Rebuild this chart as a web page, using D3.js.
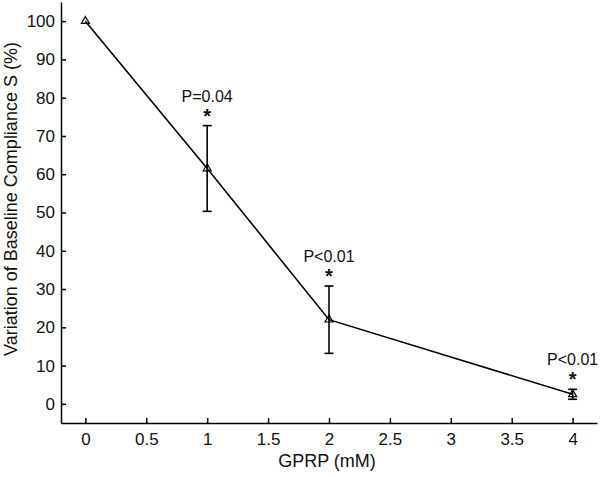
<!DOCTYPE html>
<html>
<head>
<meta charset="utf-8">
<script src="https://cdn.jsdelivr.net/npm/d3@7"></script>
<style>
  body { margin: 0; background: #fff; }
  text { font-family: "Liberation Sans", Arial, sans-serif; }
</style>
</head>
<body>
<div id="chart"></div>
<script>
// Data
const doses = [0, 1, 2, 4];
const means = [100, 61.5, 22, 2.5];
const errors = [0, 11.2, 8.8, 1.3];
const pLabels = ["", "P=0.04", "P<0.01", "P<0.01"];
const xTicks = [0, 0.5, 1, 1.5, 2, 2.5, 3, 3.5, 4];
const yTicks = [0, 10, 20, 30, 40, 50, 60, 70, 80, 90, 100];

const dataset = doses.map((d, i) => ({
  dose: d, mean: means[i], err: errors[i], label: pLabels[i]
}));

// Dimensions
const dimensions = { width: 600, height: 477, left: 61, right: 597, top: 2, bottom: 423 };

const svg = d3.select("#chart").append("svg")
  .attr("width", dimensions.width)
  .attr("height", dimensions.height);

// Scales
const xScale = d3.scaleLinear().domain([-0.2, 4.2]).range([dimensions.left, dimensions.right]);
const yScale = d3.scaleLinear().domain([-5, 105]).range([dimensions.bottom, dimensions.top]);

// Axes (ticks pointing inward)
const xAxis = d3.axisBottom(xScale).tickValues(xTicks).tickSize(-5).tickPadding(10).tickSizeOuter(0)
  .tickFormat(d3.format(""));
const yAxis = d3.axisLeft(yScale).tickValues(yTicks).tickSize(-5).tickPadding(6).tickSizeOuter(0);

const xAxisG = svg.append("g")
  .attr("transform", `translate(0, ${dimensions.bottom})`)
  .call(xAxis);
const yAxisG = svg.append("g")
  .attr("transform", `translate(${dimensions.left}, 0)`)
  .call(yAxis);

[xAxisG, yAxisG].forEach((g) => {
  g.select(".domain").attr("stroke", "#000").attr("stroke-width", 1.5);
  g.selectAll(".tick line").attr("stroke", "#000").attr("stroke-width", 1.5);
  g.selectAll(".tick text").attr("fill", "#111").style("font-size", "17px")
    .style("font-family", "'Liberation Sans', Arial, sans-serif");
});

// Axis titles
svg.append("text")
  .attr("x", 327)
  .attr("y", 467)
  .attr("text-anchor", "middle")
  .style("font-size", "18px")
  .attr("fill", "#111")
  .text("GPRP (mM)");

svg.append("text")
  .attr("transform", `translate(17, 199) rotate(-90)`)
  .attr("text-anchor", "middle")
  .style("font-size", "18px")
  .attr("fill", "#111")
  .text("Variation of Baseline Compliance S (%)");

// Line
const lineGenerator = d3.line()
  .x((d) => xScale(d.dose))
  .y((d) => yScale(d.mean));

svg.append("path")
  .datum(dataset)
  .attr("d", lineGenerator)
  .attr("fill", "none")
  .attr("stroke", "#000")
  .attr("stroke-width", 1.6);

// Error bars
const errData = dataset.filter((d) => d.err > 0);
const capW = 4.5;
const errG = svg.append("g").attr("stroke", "#000").attr("stroke-width", 1.6);
errG.selectAll(".stem").data(errData).join("line")
  .attr("x1", (d) => xScale(d.dose)).attr("x2", (d) => xScale(d.dose))
  .attr("y1", (d) => yScale(d.mean + d.err)).attr("y2", (d) => yScale(d.mean - d.err));
errG.selectAll(".capTop").data(errData).join("line")
  .attr("x1", (d) => xScale(d.dose) - capW).attr("x2", (d) => xScale(d.dose) + capW)
  .attr("y1", (d) => yScale(d.mean + d.err)).attr("y2", (d) => yScale(d.mean + d.err));
errG.selectAll(".capBot").data(errData).join("line")
  .attr("x1", (d) => xScale(d.dose) - capW).attr("x2", (d) => xScale(d.dose) + capW)
  .attr("y1", (d) => yScale(d.mean - d.err)).attr("y2", (d) => yScale(d.mean - d.err));

// Triangle markers
const tri = d3.symbol().type(d3.symbolTriangle).size(28);
svg.selectAll(".marker").data(dataset).join("path")
  .attr("d", tri)
  .attr("transform", (d) => `translate(${xScale(d.dose)}, ${yScale(d.mean)})`)
  .attr("fill", "none")
  .attr("stroke", "#000")
  .attr("stroke-width", 1.2);

// Significance labels
const sig = dataset.filter((d) => d.label);
svg.selectAll(".plabel").data(sig).join("text")
  .attr("x", (d) => xScale(d.dose))
  .attr("y", (d) => yScale(d.mean + d.err) - 24)
  .attr("text-anchor", "middle")
  .style("font-size", "16px")
  .attr("fill", "#111")
  .text((d) => d.label);

svg.selectAll(".star").data(sig).join("text")
  .attr("x", (d) => xScale(d.dose))
  .attr("y", (d) => yScale(d.mean + d.err) - 3)
  .attr("text-anchor", "middle")
  .style("font-size", "20px")
  .style("font-weight", "bold")
  .attr("fill", "#111")
  .text("*");
</script>
</body>
</html>
